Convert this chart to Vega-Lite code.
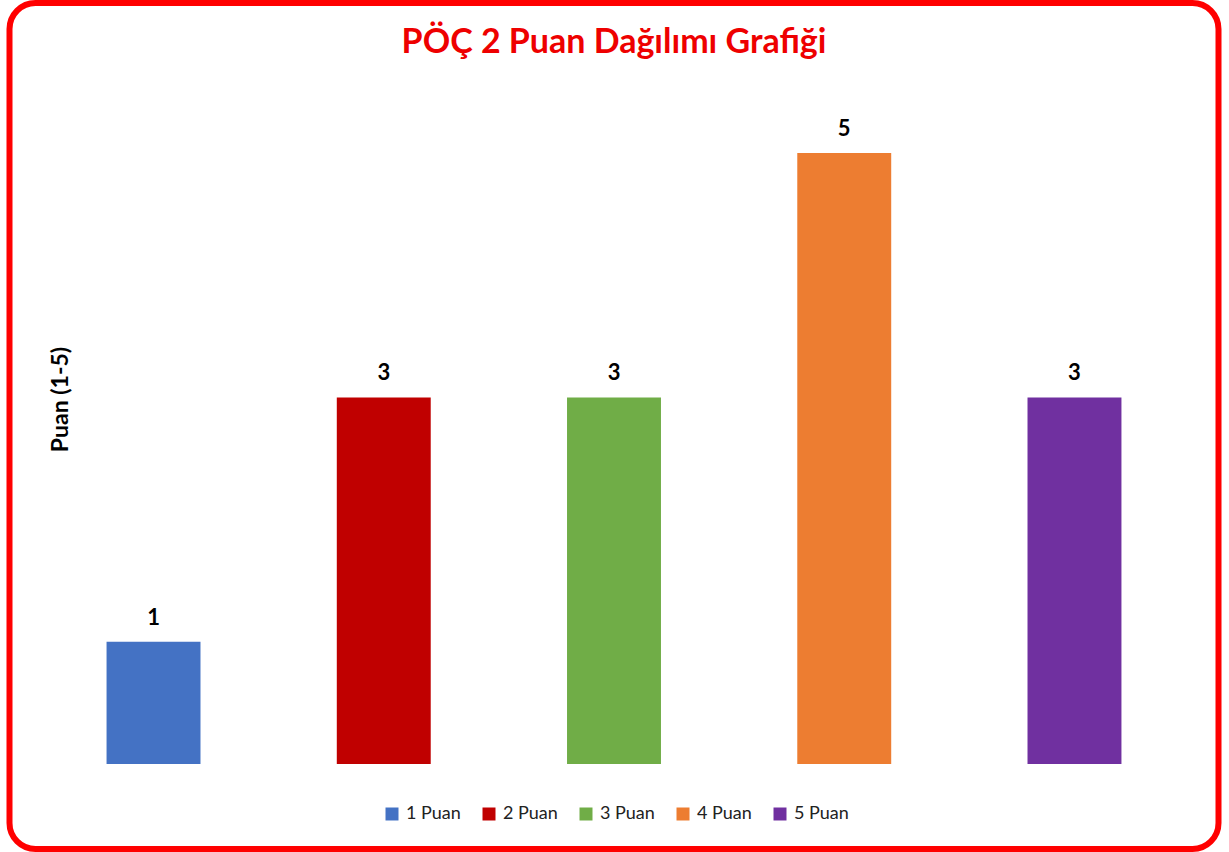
{
  "$schema": "https://vega.github.io/schema/vega-lite/v6.json",
  "autosize": {"type": "none"},
  "width": 1209,
  "height": 846,
  "padding": {"left": 9.5, "top": 3, "right": 10.5, "bottom": 3},
  "background": "white",
  "title": {
    "text": "PÖÇ 2 Puan Dağılımı Grafiği",
    "font": "Lato",
    "fontSize": 34,
    "fontWeight": "bold",
    "color": "#EE0000",
    "anchor": "middle",
    "baseline": "bottom",
    "offset": -91
  },
  "data": {
    "values": [
      {"Kategori": "1 Puan", "Puan": 1},
      {"Kategori": "2 Puan", "Puan": 3},
      {"Kategori": "3 Puan", "Puan": 3},
      {"Kategori": "4 Puan", "Puan": 5},
      {"Kategori": "5 Puan", "Puan": 3}
    ]
  },
  "encoding": {
    "x": {
      "field": "Kategori",
      "type": "nominal",
      "sort": null,
      "axis": null,
      "scale": {"range": [28.9, 1180.1], "paddingInner": 0.592, "paddingOuter": 0.296}
    },
    "y": {
      "field": "Puan",
      "type": "quantitative",
      "scale": {"domain": [0, 5], "range": [761, 150], "nice": false, "zero": true},
      "axis": {
        "title": "Puan (1-5)",
        "domain": false,
        "labels": false,
        "ticks": false,
        "grid": false,
        "titleFont": "Lato",
        "titleFontSize": 23,
        "titleFontWeight": "bold",
        "titleColor": "#000000",
        "titleX": 50.5,
        "titleY": 396,
        "titleAngle": -90,
        "titleAlign": "center",
        "titleBaseline": "middle"
      }
    }
  },
  "layer": [
    {
      "mark": {"type": "bar"},
      "encoding": {
        "color": {
          "field": "Kategori",
          "type": "nominal",
          "sort": null,
          "scale": {
            "domain": ["1 Puan", "2 Puan", "3 Puan", "4 Puan", "5 Puan"],
            "range": ["#4472C4", "#C00000", "#70AD47", "#ED7D31", "#7030A0"]
          },
          "legend": {
            "title": null,
            "orient": "none",
            "direction": "horizontal",
            "legendX": 373.5,
            "legendY": 802,
            "symbolType": "square",
            "symbolSize": 169,
            "symbolStrokeWidth": 0,
            "labelFont": "Lato",
            "labelFontSize": 18,
            "labelColor": "#222222",
            "labelOffset": 5,
            "columnPadding": 19
          }
        }
      }
    },
    {
      "mark": {"type": "text", "baseline": "bottom", "dy": -12, "font": "Lato", "fontSize": 22, "fontWeight": "bold", "color": "#000000"},
      "encoding": {
        "text": {"field": "Puan", "type": "quantitative"}
      }
    }
  ],
  "config": {
    "view": {"stroke": "#FF0000", "strokeWidth": 6, "cornerRadius": 26}
  }
}
